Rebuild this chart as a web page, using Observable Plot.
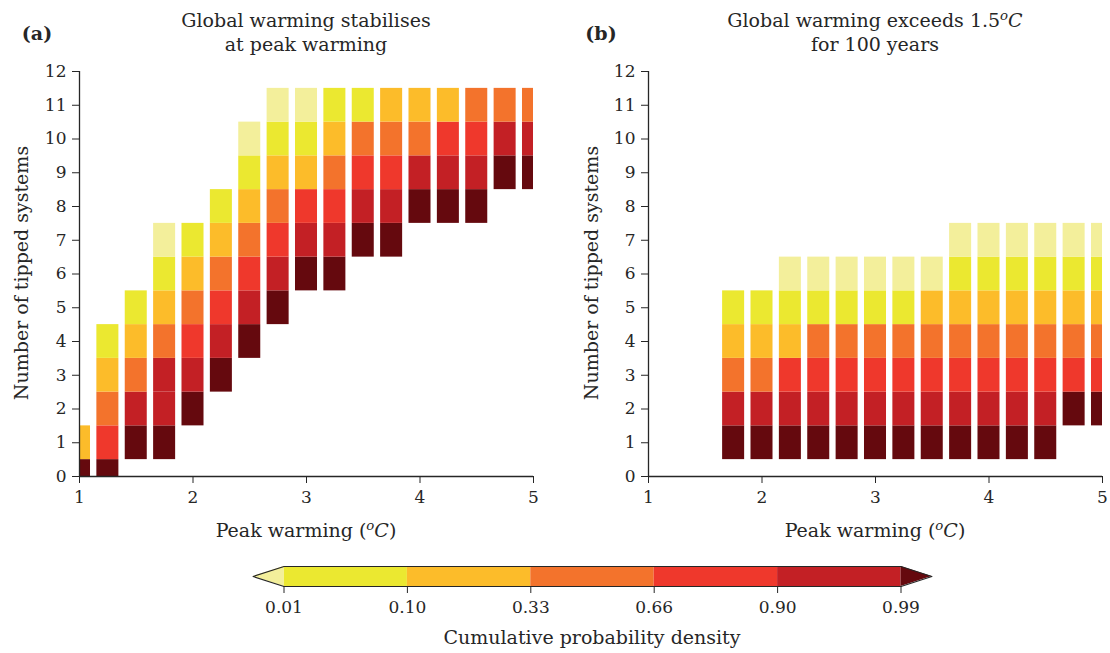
<!DOCTYPE html>
<html>
<head>
<meta charset="utf-8">
<script src="https://cdn.jsdelivr.net/npm/d3@7"></script>
<script src="https://cdn.jsdelivr.net/npm/@observablehq/plot@0.6"></script>
<style>
  html, body { margin: 0; padding: 0; background: #fff; overflow: hidden; }
  #fig { position: relative; width: 1110px; height: 653px; overflow: hidden;
         font-family: "DejaVu Serif", serif; color: #262626; }
  #fig > * { position: absolute; }
  .lbl { transform: translate(-50%, -50%); white-space: nowrap; font-size: 19px; }
  .ttl { transform: translateX(-50%); text-align: center; white-space: nowrap; font-size: 19px; line-height: 24px; }
  .rot { transform: translate(-50%, -50%) rotate(-90deg); white-space: nowrap; font-size: 19px; }
  .tag { transform: translate(-50%, -50%); font-weight: bold; font-size: 19px; }
  sup { font-size: 0.7em; line-height: 0; }
</style>
</head>
<body>
<div id="fig"></div>
<script>
// ---- Data ----
// Category index: 0 (<0.01) ... 6 (>0.99)
const colors = ["#f3ef9b", "#ebe830", "#fcbc2a", "#f3732c", "#ef382c", "#c32025", "#65090e"];
const cbLabels = ["0.01", "0.10", "0.33", "0.66", "0.90", "0.99"];
const xTicks = [1, 2, 3, 4, 5];
const yTicks = [0, 1, 2, 3, 4, 5, 6, 7, 8, 9, 10, 11, 12];

// Panel (a): Global warming stabilises at peak warming
const warmingA = [1.0, 1.25, 1.5, 1.75, 2.0, 2.25, 2.5, 2.75, 3.0, 3.25, 3.5, 3.75, 4.0, 4.25, 4.5, 4.75, 5.0];
const startA   = [0, 0, 1, 1, 2, 3, 4, 5, 6, 6, 7, 7, 8, 8, 8, 9, 9];
const binsA = [
  [6, 2],
  [6, 4, 3, 2, 1],
  [6, 5, 3, 2, 1],
  [6, 5, 5, 3, 2, 1, 0],
  [6, 5, 4, 3, 2, 1],
  [6, 5, 4, 3, 2, 1],
  [6, 5, 4, 3, 2, 1, 0],
  [6, 5, 4, 3, 2, 1, 0],
  [6, 5, 4, 2, 1, 0],
  [6, 5, 4, 3, 2, 1],
  [6, 5, 4, 3, 1],
  [6, 5, 4, 3, 2],
  [6, 5, 3, 2],
  [6, 5, 4, 2],
  [6, 5, 4, 3],
  [6, 5, 3],
  [6, 5, 3]
];

// Panel (b): Global warming exceeds 1.5 C for 100 years
const warmingB = [1.75, 2.0, 2.25, 2.5, 2.75, 3.0, 3.25, 3.5, 3.75, 4.0, 4.25, 4.5, 4.75, 5.0];
const startB   = [1, 1, 1, 1, 1, 1, 1, 1, 1, 1, 1, 1, 2, 2];
const binsB = [
  [6, 5, 3, 2, 1],
  [6, 5, 3, 2, 1],
  [6, 5, 4, 2, 1, 0],
  [6, 5, 4, 3, 1, 0],
  [6, 5, 4, 3, 1, 0],
  [6, 5, 4, 3, 1, 0],
  [6, 5, 4, 3, 1, 0],
  [6, 5, 4, 3, 2, 0],
  [6, 5, 4, 3, 2, 1, 0],
  [6, 5, 4, 3, 2, 1, 0],
  [6, 5, 4, 3, 2, 1, 0],
  [6, 5, 4, 3, 2, 1, 0],
  [6, 4, 3, 2, 1, 0],
  [6, 4, 3, 2, 1, 0]
];

// ---- Drawing ----
const fig = document.getElementById("fig");
const ink = "#262626";
const halfW = 0.097;

function cellsOf(xs, starts, bins) {
  const out = [];
  xs.forEach((x, i) => bins[i].forEach((c, j) => out.push({x, n: starts[i] + j, c})));
  return out;
}

function panel(xs, starts, bins, width, marginRight) {
  const cells = cellsOf(xs, starts, bins);
  return Plot.plot({
    width, height: 560,
    marginLeft: 79, marginRight, marginTop: 71, marginBottom: 84,
    style: {fontFamily: "DejaVu Serif", fontSize: "17px", color: ink, background: "transparent", overflow: "visible"},
    x: {domain: [1, 5], ticks: xTicks, tickFormat: d3.format("d"), label: null, tickSize: 7, tickPadding: 7},
    y: {domain: [0, 12], ticks: yTicks, tickFormat: d3.format("d"), label: null, tickSize: 7, tickPadding: 6},
    color: {type: "ordinal", domain: d3.range(colors.length), range: colors},
    marks: [
      Plot.rect(cells, {
        x1: d => d.x - halfW, x2: d => d.x + halfW,
        y1: d => d.n - 0.5, y2: d => d.n + 0.5,
        fill: "c", clip: true
      }),
      Plot.ruleX([1], {stroke: ink, strokeWidth: 1.3}),
      Plot.ruleY([0], {stroke: ink, strokeWidth: 1.3})
    ]
  });
}

function place(el, left, top) {
  el.style.position = "absolute";
  el.style.left = left + "px";
  el.style.top = top + "px";
  fig.appendChild(el);
  return el;
}

place(panel(warmingA, startA, binsA, 560, 27), 0, 0);
place(panel(warmingB, startB, binsB, 541, 8), 569, 0);

// Colorbar legend
const ext = 0.25;
const bins = d3.range(1, colors.length - 1).map(k => ({i: k - 1, c: k}));
const outline = [
  {x: -ext, y: 0.5}, {x: 0, y: 1}, {x: 5, y: 1}, {x: 5 + ext, y: 0.5},
  {x: 5, y: 0}, {x: 0, y: 0}, {x: -ext, y: 0.5}
];
const cb = Plot.plot({
  width: 1110, height: 98,
  marginLeft: 283.5, marginRight: 209.5, marginTop: 11, marginBottom: 67,
  style: {fontFamily: "DejaVu Serif", fontSize: "17px", color: ink, background: "transparent", overflow: "visible"},
  x: {domain: [0, 5], ticks: d3.range(0, 6), tickFormat: i => cbLabels[i], label: null, tickSize: 7, tickPadding: 7},
  y: {domain: [0, 1], axis: null},
  color: {type: "ordinal", domain: d3.range(colors.length), range: colors},
  marks: [
    Plot.rect(bins, {x1: d => d.i, x2: d => d.i + 1, y1: 0, y2: 1, fill: "c"}),
    Plot.areaY([{x: -ext, lo: 0.5, hi: 0.5}, {x: 0, lo: 0, hi: 1}], {x: "x", y1: "lo", y2: "hi", fill: colors[0]}),
    Plot.areaY([{x: 5, lo: 0, hi: 1}, {x: 5 + ext, lo: 0.5, hi: 0.5}], {x: "x", y1: "lo", y2: "hi", fill: colors[colors.length - 1]}),
    Plot.line(outline, {x: "x", y: "y", stroke: ink, strokeWidth: 1.2})
  ]
});
place(cb, 0, 555);

// Text labels
function html(cls, inner, left, top) {
  const d = document.createElement("div");
  d.className = cls;
  d.innerHTML = inner;
  return place(d, left, top);
}
const degC = '(<sup><i>o</i></sup><i>C</i>)';
html("ttl", "Global warming stabilises<br>at peak warming", 306, 8);
html("ttl", "Global warming exceeds 1.5<sup><i>o</i></sup><i>C</i><br>for 100 years", 875, 8);
html("tag", "(a)", 37, 33);
html("tag", "(b)", 601, 33);
html("lbl", "Peak warming " + degC, 306, 530);
html("lbl", "Peak warming " + degC, 875, 530);
html("rot", "Number of tipped systems", 21, 273);
html("rot", "Number of tipped systems", 591, 273);
html("lbl", "Cumulative probability density", 592, 637);
</script>
</body>
</html>
